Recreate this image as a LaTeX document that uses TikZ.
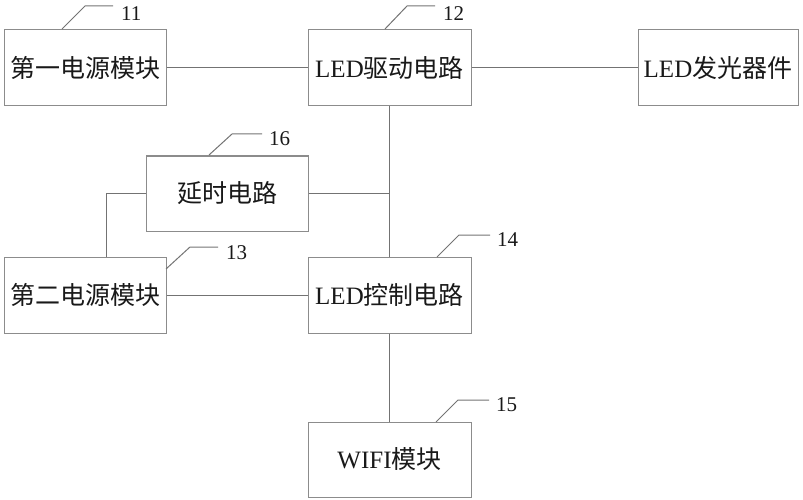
\documentclass[tikz,border=0pt]{standalone}
\usepackage{fontspec}
\setmainfont{Liberation Serif}
\newfontfamily\cjk{Noto Sans CJK SC}
\begin{document}
\begin{tikzpicture}[x=1pt,y=-1pt,
  blockbox/.style={draw=black!45, line width=1pt, rectangle, inner sep=0pt,
     minimum height=76pt, text=black!90, font=\fontsize{25}{28}\selectfont},
  wire/.style={draw=black!55, line width=1pt},
  leader/.style={draw=black!55, line width=1pt},
  refnum/.style={anchor=west, inner sep=0pt, text=black!90, font=\fontsize{21}{23}\selectfont}]
\useasboundingbox (0,0) rectangle (803,500);
% blocks
\node[blockbox, minimum width=162pt] (p1) at (85,68) {\cjk 第一电源模块};
\node[blockbox, minimum width=163pt] (drv) at (389.5,68) {LED\cjk 驱动电路};
\node[blockbox, minimum width=160pt] (led) at (718,68) {LED\cjk 发光器件};
\node[blockbox, minimum width=162pt, minimum height=75pt] (dly) at (227,193.5) {\cjk 延时电路};
\node[blockbox, minimum width=162pt] (p2) at (85,295) {\cjk 第二电源模块};
\node[blockbox, minimum width=163pt] (ctl) at (389.5,295) {LED\cjk 控制电路};
\node[blockbox, minimum width=163pt, minimum height=75pt] (wifi) at (389.5,459.5) {WIFI\cjk 模块};
% connectors
\draw[wire] (p1.east) -- (drv.west);
\draw[wire] (drv.east) -- (led.west);
\draw[wire] (drv.south) -- (ctl.north);
\draw[wire] (dly.east) -- (dly.east -| drv.south);
\coordinate (bend) at (106,193.5);
\draw[wire] (dly.west) -- (bend) -- (bend |- p2.north);
\draw[wire] (p2.east) -- (ctl.west);
\draw[wire] (ctl.south) -- (wifi.north);
% reference numbers
\coordinate (l11a) at (62,29); \coordinate (l11b) at (85,6); \coordinate (l11c) at (113,6);
\draw[leader] (l11a) -- (l11b) -- (l11c);
\node[refnum] (n11) at (121,14) {11};
\coordinate (l12a) at (385,29); \coordinate (l12b) at (407,6); \coordinate (l12c) at (435,6);
\draw[leader] (l12a) -- (l12b) -- (l12c);
\node[refnum] (n12) at (443,14) {12};
\coordinate (l16a) at (209,155); \coordinate (l16b) at (232,134); \coordinate (l16c) at (262,134);
\draw[leader] (l16a) -- (l16b) -- (l16c);
\node[refnum] (n16) at (269,139) {16};
\coordinate (l13a) at (166,269); \coordinate (l13b) at (190,247); \coordinate (l13c) at (218,247);
\draw[leader] (l13a) -- (l13b) -- (l13c);
\node[refnum] (n13) at (226,253) {13};
\coordinate (l14a) at (437,257); \coordinate (l14b) at (459,235); \coordinate (l14c) at (490,235);
\draw[leader] (l14a) -- (l14b) -- (l14c);
\node[refnum] (n14) at (497,240) {14};
\coordinate (l15a) at (436,422); \coordinate (l15b) at (458,400); \coordinate (l15c) at (489,400);
\draw[leader] (l15a) -- (l15b) -- (l15c);
\node[refnum] (n15) at (496,405) {15};
\end{tikzpicture}
\end{document}
